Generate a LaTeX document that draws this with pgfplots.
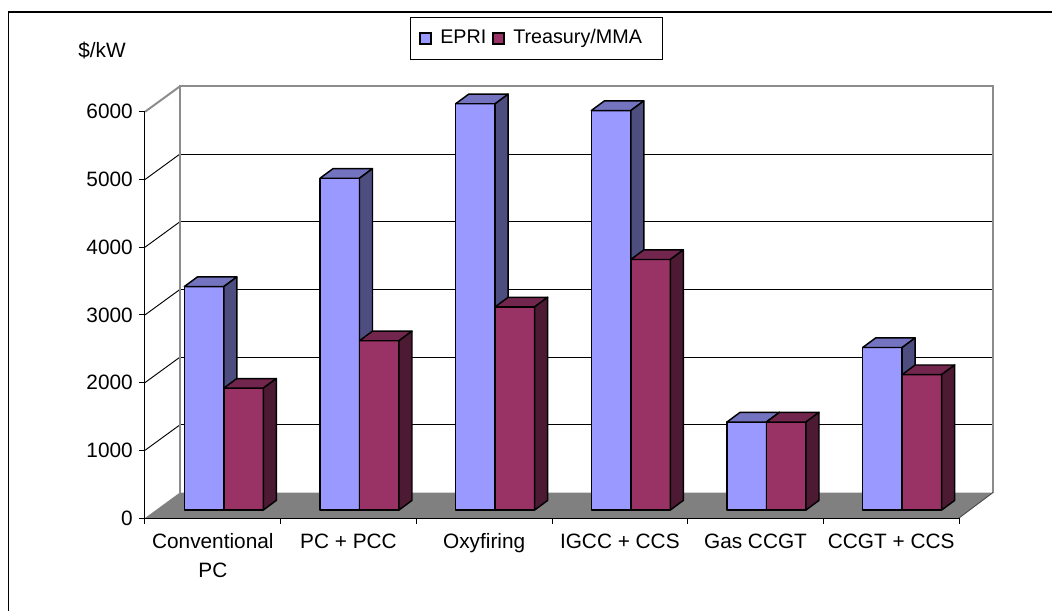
\documentclass[border=0pt]{standalone}
\usepackage{fontspec}
\setmainfont{Liberation Sans}
\usepackage{pgfplots}
\pgfplotsset{compat=1.18}

\definecolor{epriFront}{HTML}{9999FF}
\definecolor{epriTop}{HTML}{7373BF}
\definecolor{epriSide}{HTML}{4D4D80}
\definecolor{tmFront}{HTML}{993366}
\definecolor{tmTop}{HTML}{73264D}
\definecolor{tmSide}{HTML}{4D1A33}
\definecolor{floorgray}{HTML}{808080}
\definecolor{wallgray}{HTML}{8C8C8C}

% bar geometry (canvas units)
\def\bw{14.81pt}   % half bar width
\def\bdx{9.75pt}   % depth, horizontal
\def\bdy{7.2pt}    % depth, vertical
\def\bsx{8.25pt}   % bar plane offset from the front plane
\def\bsy{6pt}
\def\yu{0.050775pt}% one $/kW on the value axis

% a 3-D column drawn at a data point: front, top and side faces
\newcommand\declarecuboid[5]{%
  \pgfdeclareplotmark{#1}{%
    \pgfmathsetlengthmacro\barh{\barval*\yu}%
    \pgfmathsetlengthmacro\xl{\bsx+(#2)-\bw}%
    \pgfmathsetlengthmacro\xr{\bsx+(#2)+\bw}%
    \pgfmathsetlengthmacro\yt{\bsy}%
    \pgfmathsetlengthmacro\yb{\bsy-\barh}%
    \pgfmathsetlengthmacro\xlb{\xl+\bdx}%
    \pgfmathsetlengthmacro\xrb{\xr+\bdx}%
    \pgfmathsetlengthmacro\ytb{\yt+\bdy}%
    \pgfmathsetlengthmacro\ybb{\yb+\bdy}%
    \filldraw[fill=#3, draw=black, line width=1.1pt, line join=round]
      (\xl,\yb) rectangle (\xr,\yt);
    \filldraw[fill=#4, draw=black, line width=1.1pt, line join=round]
      (\xl,\yt) -- (\xr,\yt) -- (\xrb,\ytb) -- (\xlb,\ytb) -- cycle;
    \filldraw[fill=#5, draw=black, line width=1.1pt, line join=round]
      (\xr,\yt) -- (\xrb,\ytb) -- (\xrb,\ybb) -- (\xr,\yb) -- cycle;}}
\declarecuboid{cubeEPRI}{-14.81pt}{epriFront}{epriTop}{epriSide}
\declarecuboid{cubeTM}{14.81pt}{tmFront}{tmTop}{tmSide}

\newcommand\lblfont{\fontsize{15.6}{21.5}\selectfont}
\newcommand\legfont{\fontsize{14.8}{18}\selectfont}

\begin{document}
\begin{tikzpicture}
% floor, back wall and grid (pixel-like units, origin at the front-left floor corner)
\begin{scope}[x=0.75pt, y=-0.75pt, shift={(-145,-518)}]
  \draw[line width=1pt] (8.5,611) -- (8.5,12) -- (1052,12);
  \fill[floorgray] (145,518) -- (959,518) -- (993,492.5) -- (180,492.5) -- cycle;
  \foreach \k in {1,...,5} {
    \draw[black, line width=0.7pt] (180,492.5-67.7*\k) -- (993,492.5-67.7*\k);
    \draw[black, line width=0.7pt] (145,518-67.7*\k) -- (180,492.5-67.7*\k);
  }
  \draw[wallgray, line width=1.5pt] (145,111.8) -- (180,86.3);
  \draw[wallgray, line width=1.5pt] (180,492.5) -- (180,86.3) -- (993,86.3) -- (993,492.5);
  \draw[black!70, line width=0.7pt] (959,518) -- (993,492.5);
\end{scope}

\begin{axis}[
  at={(0,0)}, anchor=south west,
  x=101.75pt, y=0.050775pt,
  xmin=-0.5, xmax=5.5, ymin=0, ymax=6000,
  clip=false,
  axis x line=bottom, axis y line=left,
  axis line style={-, black, line width=0.75pt},
  tick style={black, line width=0.75pt},
  tick align=outside, major tick length=4.5pt,
  ytick={0,1000,...,6000},
  scaled y ticks=false,
  xtick={-0.5,0.5,...,5.5}, xticklabels={},
  extra x ticks={0,1,2,3,4,5},
  extra x tick labels={{Conventional\\PC},{PC + PCC},{Oxyfiring},{IGCC + CCS},{Gas CCGT},{CCGT + CCS}},
  extra x tick style={major tick length=0pt,
    xticklabel style={align=center, anchor=north, inner sep=0pt, yshift=-11.5pt}},
  tick label style={font=\lblfont},
  yticklabel style={anchor=east, inner sep=0pt, xshift=-4.5pt},
  /pgf/number format/assume math mode=true,
  /pgf/number format/1000 sep={},
]
% EPRI estimates
\addplot[scatter, only marks, mark=cubeEPRI, point meta=y,
  visualization depends on={rawy \as \barval}]
  coordinates {(0,3300) (1,4900) (2,6000) (3,5900) (4,1300) (5,2400)};
% Treasury/MMA estimates
\addplot[scatter, only marks, mark=cubeTM, point meta=y,
  visualization depends on={rawy \as \barval}]
  coordinates {(0,1800) (1,2500) (2,3000) (3,3700) (4,1300) (5,2000)};
\end{axis}

\begin{scope}[x=0.75pt, y=-0.75pt, shift={(-145,-518)}]
  \node[anchor=base west, inner sep=0pt, font=\lblfont] at (78,58) {\$/kW};
  % legend
  \draw[black, line width=0.75pt] (410.7,17.7) rectangle (662.7,59.3);
  \filldraw[fill=epriFront, draw=black, line width=0.9pt] (420,33) rectangle (431,44);
  \node[anchor=base west, inner sep=0pt, font=\legfont] at (440,44) {EPRI};
  \filldraw[fill=tmFront, draw=black, line width=0.9pt] (493,33) rectangle (504,44);
  \node[anchor=base west, inner sep=0pt, font=\legfont] at (513,44) {Treasury/MMA};
  \pgfresetboundingbox
  \path[use as bounding box] (0,0) rectangle (1052,611);
\end{scope}
\end{tikzpicture}
\end{document}
